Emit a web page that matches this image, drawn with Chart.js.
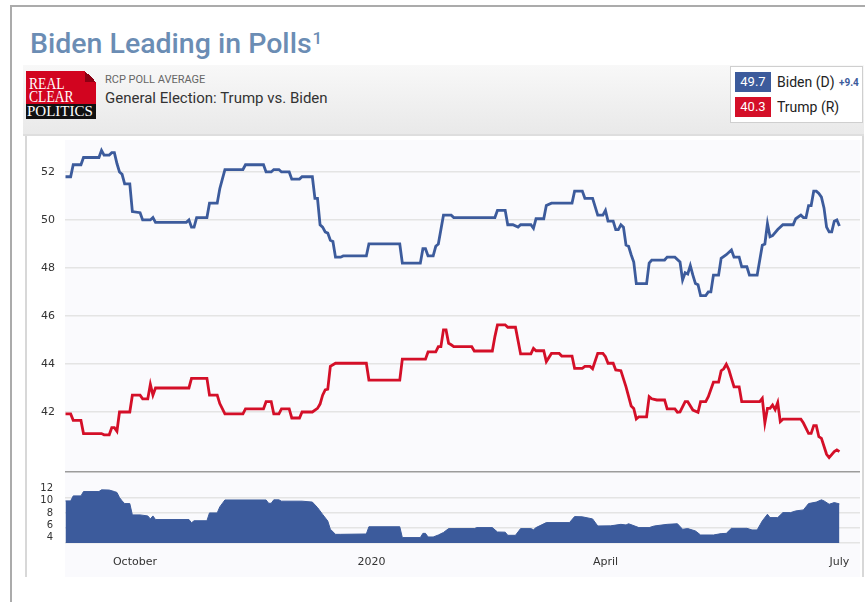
<!DOCTYPE html>
<html>
<head>
<meta charset="utf-8">
<title>Biden Leading in Polls</title>
<script src="https://cdn.jsdelivr.net/npm/chart.js@4.4.1/dist/chart.umd.min.js"></script>
<style>
  html, body { margin: 0; padding: 0; }
  body { width: 865px; height: 602px; position: relative; overflow: hidden; background: #fff; font-family: Roboto, "Noto Sans", sans-serif; }
  #frame { position: absolute; left: 10px; top: 5px; width: 900px; height: 700px; border-left: 2px solid #ababab; border-top: 2px solid #ababab; }
  #title { position: absolute; left: 30px; top: 29px; font-size: 28.5px; font-weight: 500; line-height: 29px; color: #6b8db4; white-space: nowrap; }
  #title sup { font-size: 17px; line-height: 0; vertical-align: baseline; position: relative; top: -9px; margin-left: 1px; }
  #widget { position: absolute; left: 25px; top: 65px; width: 835px; height: 512px; border-left: 2px solid #d8d8d8; border-right: 2px solid #d8d8d8; background: #fff; }
  #header { position: absolute; left: 23px; top: 65px; width: 841px; height: 69px; background: linear-gradient(#f8f8f8, #e9e9e9); border-bottom: 2px solid #dedede; }
  .logo-red { position: absolute; left: 26px; top: 71px; width: 70px; height: 33px; background: #d2041f; }
  .logo-fold { position: absolute; left: 85px; top: 71px; width: 11px; height: 11px; background: linear-gradient(to bottom left, #f6f6f6 50%, #8c0013 50%); }
  .logo-black { position: absolute; left: 26px; top: 104px; width: 70px; height: 15px; background: #111; }
  .logo-txt { position: absolute; font-family: "Liberation Serif", serif; font-size: 16px; line-height: 16px; color: #fff; white-space: nowrap; transform-origin: 0 0; transform: scaleX(0.85); }
  #rcp { position: absolute; left: 105px; top: 73px; font-size: 11px; color: #666; }
  #race { position: absolute; left: 105px; top: 89px; font-size: 15px; color: #333; }
  #legend { position: absolute; left: 730px; top: 66px; width: 131px; height: 55px; background: #fff; border: 1px solid #cfcfcf; }
  .badge { position: absolute; left: 735px; width: 36px; height: 20px; line-height: 20px; color: #fff; font-size: 13px; text-align: center; }
  .cand { position: absolute; left: 777px; height: 20px; line-height: 20px; font-size: 14px; color: #222; white-space: nowrap; }
  #lead { position: absolute; left: 839px; top: 72px; height: 20px; line-height: 21px; font-size: 10px; font-weight: bold; color: #3c5b9c; }
  #chartBox { position: absolute; left: 27px; top: 136px; width: 833px; height: 441px; }
</style>
</head>
<body>
<div id="frame"></div>
<div id="title">Biden Leading in Polls<sup>1</sup></div>
<div id="widget"></div>
<div id="header"></div>
<div class="logo-red"></div>
<div class="logo-fold"></div>
<div class="logo-black"></div>
<div class="logo-txt" style="left:29px;top:76px;">REAL</div>
<div class="logo-txt" style="left:29px;top:89px;">CLEAR</div>
<div class="logo-txt" style="left:27px;top:103px;font-size:15px;transform:none;">POLITICS</div>
<div id="rcp">RCP POLL AVERAGE</div>
<div id="race">General Election: Trump vs. Biden</div>
<div id="legend"></div>
<div class="badge" style="top:72px;background:#3c5b9c;">49.7</div>
<div class="cand" style="top:72px;">Biden (D)</div>
<div id="lead">+9.4</div>
<div class="badge" style="top:97px;background:#d40f28;">40.3</div>
<div class="cand" style="top:97px;">Trump (R)</div>
<div id="chartBox"><canvas id="rcpChart" width="833" height="441"></canvas></div>

<script>
// x values are days counted from 2019-09-01
const tickDays = [30, 122, 213, 304];
const tickLabels = ['October', '2020', 'April', 'July'];

const bidenDays = [3, 5, 6, 9, 10, 16, 17, 18, 20, 21, 22, 23, 24, 25, 26, 28, 29, 32, 33, 36,
  37, 38, 50, 51, 52, 53, 54, 58, 59, 62, 63, 64, 65, 72, 73, 80, 81, 83, 84, 86,
  87, 90, 91, 94, 95, 99, 100, 101, 102, 103, 104, 105, 106, 107, 108, 110, 111, 120, 121, 133,
  134, 141, 142, 143, 144, 146, 147, 148, 150, 153, 154, 170, 171, 174, 175, 177, 179, 180, 184, 185,
  186, 189, 190, 192, 200, 201, 204, 205, 208, 210, 212, 213, 214, 216, 217, 218, 219, 220, 221, 222,
  223, 224, 225, 229, 230, 231, 236, 237, 240, 242, 243, 244, 245, 246, 247, 248, 249, 250, 252, 253,
  254, 255, 257, 258, 260, 262, 263, 265, 266, 268, 269, 272, 274, 275, 276, 277, 278, 280, 282, 286,
  287, 289, 290, 291, 292, 293, 294, 295, 296, 297, 298, 299, 300, 301, 302, 303, 304];
const bidenPct = [51.8, 51.8, 52.3, 52.3, 52.6, 52.6, 52.9, 52.7, 52.7, 52.8, 52.8, 52.35, 52.0, 51.9, 51.5, 51.5, 50.35, 50.3, 50.0, 50.0,
  50.1, 49.9, 49.9, 50.0, 49.7, 49.7, 50.1, 50.1, 50.7, 50.7, 51.3, 51.7, 52.1, 52.1, 52.3, 52.3, 52.0, 52.0, 52.1, 52.1,
  52.0, 52.0, 51.7, 51.7, 51.8, 51.8, 50.9, 50.9, 49.8, 49.7, 49.5, 49.45, 49.15, 49.1, 48.45, 48.45, 48.5, 48.5, 49.0, 49.0,
  48.2, 48.2, 48.8, 48.8, 48.5, 48.5, 48.9, 49.0, 50.2, 50.2, 50.1, 50.1, 50.4, 50.4, 49.8, 49.8, 49.7, 49.8, 49.8, 49.65,
  50.05, 50.05, 50.6, 50.7, 50.7, 51.2, 51.2, 50.9, 50.9, 50.2, 50.2, 50.4, 49.95, 49.95, 49.6, 49.6, 49.8, 49.7, 48.95, 48.9,
  48.55, 48.25, 47.35, 47.35, 48.2, 48.33, 48.33, 48.45, 48.45, 48.25, 47.5, 47.8, 47.75, 48.1, 47.7, 47.35, 47.3, 46.85, 46.85, 47.0,
  47.0, 47.7, 47.7, 48.4, 48.55, 48.75, 48.45, 48.45, 48.05, 48.05, 47.7, 47.7, 48.95, 49.0, 49.85, 49.3, 49.35, 49.6, 49.8, 49.8,
  50.05, 50.2, 50.1, 50.1, 50.6, 50.6, 51.2, 51.2, 51.1, 50.95, 50.5, 49.7, 49.5, 49.5, 49.95, 50.0, 49.75];

const trumpDays = [3, 5, 6, 9, 10, 17, 18, 20, 21, 22, 23, 24, 28, 29, 32, 33, 35, 36, 37, 38,
  51, 52, 58, 59, 62, 63, 65, 72, 73, 80, 81, 83, 84, 86, 87, 90, 91, 94, 95, 99,
  101, 102, 103, 104, 105, 106, 108, 120, 121, 133, 134, 143, 144, 147, 148, 149, 150, 151, 152, 153,
  154, 161, 162, 169, 170, 171, 174, 175, 178, 180, 184, 185, 186, 189, 190, 192, 195, 196, 200, 201,
  204, 205, 207, 208, 210, 212, 213, 214, 216, 217, 219, 221, 223, 224, 225, 226, 229, 230, 231, 233,
  236, 237, 240, 241, 242, 244, 245, 247, 249, 250, 252, 253, 255, 257, 258, 259, 260, 261, 262, 263,
  265, 266, 273, 274, 275, 276, 277, 278, 279, 280, 281, 282, 289, 290, 292, 293, 294, 295, 296, 297,
  299, 300, 302, 303, 304];
const trumpPct = [41.92, 41.92, 41.65, 41.65, 41.1, 41.1, 41.05, 41.05, 41.35, 41.35, 41.2, 42.0, 42.0, 42.7, 42.7, 42.55, 42.55, 43.15, 42.7, 43.0,
  43.0, 43.4, 43.4, 42.7, 42.7, 42.35, 41.92, 41.92, 42.13, 42.13, 42.43, 42.43, 41.92, 41.92, 42.13, 42.13, 41.75, 41.75, 42.0, 42.0,
  42.15, 42.33, 42.7, 42.92, 42.95, 43.9, 44.03, 44.03, 43.33, 43.33, 44.2, 44.2, 44.5, 44.5, 44.72, 44.72, 45.42, 45.42, 44.86, 44.8,
  44.72, 44.72, 44.54, 44.54, 45.14, 45.63, 45.63, 45.53, 45.53, 44.42, 44.42, 44.65, 44.55, 44.55, 44.1, 44.44, 44.44, 44.33, 44.33, 43.82,
  43.82, 43.9, 43.9, 43.8, 44.44, 44.44, 44.3, 44.03, 44.03, 43.75, 43.72, 43.05, 42.25, 42.15, 41.71, 41.8, 41.8, 42.64, 42.55, 42.5,
  42.5, 42.13, 42.13, 41.99, 42.0, 42.43, 42.43, 42.08, 41.99, 42.43, 42.43, 42.64, 43.24, 43.24, 43.72, 43.8, 43.99, 43.76, 43.4, 43.05,
  43.05, 42.43, 42.43, 42.57, 41.55, 42.15, 42.15, 42.29, 42.1, 42.39, 41.6, 41.7, 41.7, 41.54, 41.11, 41.11, 41.43, 41.43, 40.97, 40.9,
  40.24, 40.1, 40.35, 40.42, 40.35];

const spreadDays = [3, 5, 6, 9, 10, 16, 17, 20, 22, 23, 24, 25, 26, 28, 29, 32, 35, 36, 37, 38,
  51, 52, 53, 58, 59, 62, 63, 65, 81, 82, 83, 84, 86, 87, 95, 99, 101, 103, 105, 106,
  108, 110, 120, 121, 133, 134, 141, 142, 143, 144, 146, 148, 150, 152, 162, 163, 169, 171, 174, 175,
  178, 180, 184, 185, 186, 190, 199, 201, 204, 208, 210, 215, 219, 221, 222, 226, 230, 232, 237, 241,
  243, 245, 248, 250, 255, 258, 260, 262, 268, 270, 272, 274, 276, 277, 280, 282, 285, 287, 290, 292,
  295, 297, 298, 300, 302, 304];
const spreadPts = [10.0, 10.0, 10.83, 10.83, 11.55, 11.55, 11.83, 11.8, 11.55, 11.4, 10.55, 10.0, 9.55, 9.55, 7.67, 7.67, 7.5, 7.0, 7.5, 6.9,
  6.9, 6.35, 6.7, 6.7, 8.0, 8.0, 9.0, 10.15, 10.15, 9.6, 9.6, 10.17, 10.17, 9.95, 9.95, 9.8, 8.9, 7.75, 6.65, 5.3,
  4.44, 4.44, 4.5, 5.7, 5.7, 3.9, 3.9, 4.6, 4.6, 4.0, 4.0, 4.33, 4.75, 5.39, 5.4, 5.56, 5.56, 4.83, 4.8, 4.28,
  4.28, 5.39, 5.39, 5.2, 5.56, 6.39, 6.39, 7.39, 7.35, 7.0, 5.83, 5.85, 6.1, 6.0, 6.2, 5.56, 5.56, 5.83, 6.1, 6.2,
  5.28, 5.4, 5.0, 4.33, 4.33, 4.56, 4.6, 5.44, 5.44, 5.17, 5.17, 6.67, 7.78, 7.22, 7.22, 8.05, 8.05, 8.33, 8.5, 9.55,
  9.8, 10.17, 10.0, 9.44, 9.72, 9.5];

const pollTicks = [42, 44, 46, 48, 50, 52];
const spreadLabels = [4, 6, 8, 10, 12];
const spreadGrid = [3, 5.5, 8, 10.5];
const spreadTop = 14.8;

const BLUE = '#3c5b9c';
const RED = '#d40f28';

const pts = (days, vals) => days.map((d, i) => ({ x: d, y: vals[i] }));

// fixed-width y axes without the automatic label padding
const fitY = (scale) => {
    scale.width = 38;
    scale.paddingTop = 0;
    scale.paddingBottom = 0;
};

const plotBg = {
    id: 'plotBg',
    beforeDraw(chart) {
        const { ctx, chartArea } = chart;
        ctx.save();
        ctx.fillStyle = '#fafafd';
        ctx.fillRect(chartArea.left, chartArea.top, chartArea.right - chartArea.left, chart.height - chartArea.top);
        ctx.restore();
    }
};

Chart.defaults.font.family = '"DejaVu Sans", Verdana, sans-serif';
Chart.defaults.color = '#333';

new Chart(document.getElementById('rcpChart').getContext('2d'), {
    type: 'line',
    data: {
        datasets: [
            {
                label: 'Biden (D)',
                data: pts(bidenDays, bidenPct),
                borderColor: BLUE,
                borderWidth: 2.8,
                pointRadius: 0,
                tension: 0,
                yAxisID: 'y'
            },
            {
                label: 'Trump (R)',
                data: pts(trumpDays, trumpPct),
                borderColor: RED,
                borderWidth: 2.8,
                pointRadius: 0,
                tension: 0,
                yAxisID: 'y'
            },
            {
                label: 'Spread',
                data: pts(spreadDays, spreadPts),
                borderColor: BLUE,
                backgroundColor: BLUE,
                borderWidth: 1,
                fill: 'start',
                pointRadius: 0,
                tension: 0,
                yAxisID: 'y2'
            }
        ]
    },
    options: {
        responsive: false,
        animation: false,
        devicePixelRatio: 1,
        layout: { padding: { top: 4, right: 0, left: 0, bottom: 0 } },
        plugins: {
            legend: { display: false },
            tooltip: { enabled: false }
        },
        scales: {
            x: {
                type: 'linear',
                min: 2.8,
                max: 312,
                afterBuildTicks: (scale) => { scale.ticks = tickDays.map(v => ({ value: v })); },
                afterFit: (scale) => { scale.height = 34; },
                grid: { display: false },
                border: { display: false },
                ticks: {
                    autoSkip: false,
                    maxRotation: 0,
                    padding: 5,
                    font: { size: 11 },
                    color: '#333',
                    callback: (v) => tickLabels[tickDays.indexOf(v)]
                }
            },
            y: {
                type: 'linear',
                position: 'left',
                stack: 'v',
                stackWeight: 332,
                weight: 2,
                min: 39.5,
                max: 53.33,
                afterBuildTicks: (scale) => { scale.ticks = pollTicks.map(v => ({ value: v })); },
                afterFit: fitY,
                grid: { color: '#e4e4e4', lineWidth: 1.5, drawTicks: false },
                border: { display: false },
                ticks: { autoSkip: false, padding: 10, font: { size: 11 }, color: '#333' }
            },
            y2: {
                type: 'linear',
                position: 'left',
                stack: 'v',
                stackWeight: 71,
                weight: 1,
                min: 3,
                max: spreadTop,
                afterBuildTicks: (scale) => {
                    const vals = [...new Set([...spreadGrid, ...spreadLabels, spreadTop])].sort((a, b) => a - b);
                    scale.ticks = vals.map(v => ({ value: v }));
                },
                afterFit: fitY,
                grid: {
                    drawTicks: false,
                    lineWidth: 1.5,
                    color: (ctx) => {
                        const v = ctx.tick ? ctx.tick.value : null;
                        if (v === spreadTop) return '#9c9c9c';
                        return spreadGrid.includes(v) ? '#e4e4e4' : 'rgba(0,0,0,0)';
                    }
                },
                border: { display: false },
                ticks: {
                    autoSkip: false,
                    padding: 12,
                    font: { size: 10 },
                    color: '#333',
                    callback: (v) => spreadLabels.includes(v) ? v : ''
                }
            }
        }
    },
    plugins: [plotBg]
});
</script>
</body>
</html>
